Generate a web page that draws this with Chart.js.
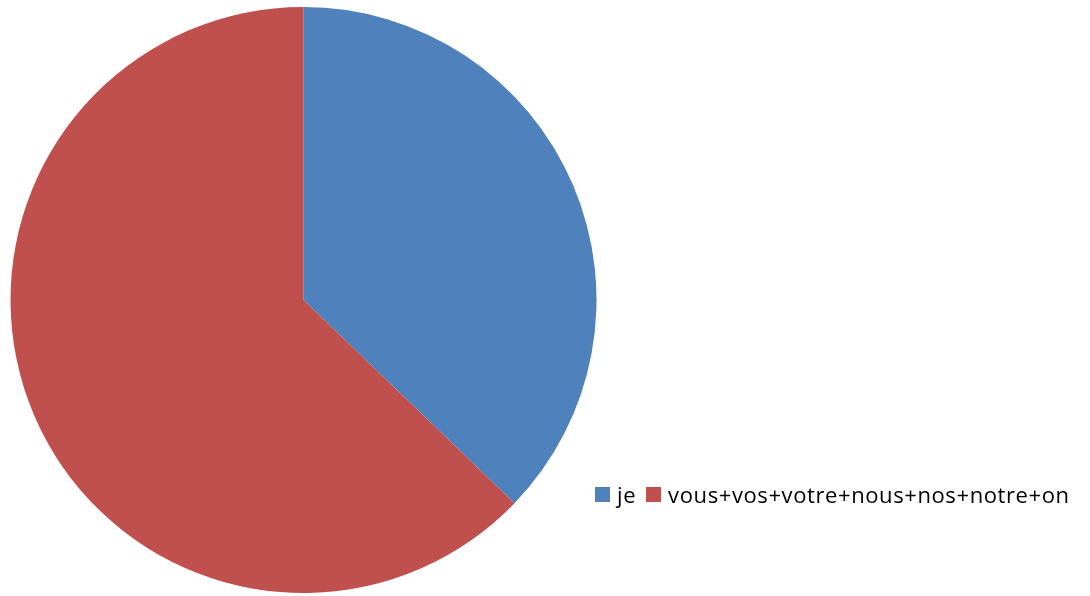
<!DOCTYPE html>
<html>
<head>
<meta charset="utf-8">
<script src="https://cdn.jsdelivr.net/npm/chart.js@4"></script>
<style>
  html, body { margin: 0; padding: 0; background: #fff; }
  #wrap { position: relative; width: 1090px; height: 596px; }
  #pieBox { position: absolute; left: 0; top: 0; width: 607px; height: 596px; }
  #legend { position: absolute; left: 595px; top: 479px; height: 30px; display: flex; align-items: center;
            font-family: "Open Sans", sans-serif; font-size: 22px; letter-spacing: 0.6px; line-height: 30px; color: #000; white-space: nowrap; }
  #legend .item { display: flex; align-items: center; }
  #legend .box { width: 15px; height: 15px; margin-right: 7px; }
  #legend .item + .item { margin-left: 10px; }
</style>
</head>
<body>
<div id="wrap">
  <div id="pieBox"><canvas id="myPie"></canvas></div>
  <div id="legend"></div>
</div>
<script>
const labels = ["je", "vous+vos+votre+nous+nos+notre+on"];
const values = [37.2, 62.8];
const colors = ["#4F81BD", "#C0504D"];

const ctx = document.getElementById("myPie");

new Chart(ctx, {
  type: "pie",
  data: {
    labels: labels,
    datasets: [
      {
        data: values,
        backgroundColor: colors,
        borderWidth: 0,
      },
    ],
  },
  options: {
    responsive: true,
    maintainAspectRatio: false,
    animation: false,
    layout: { padding: { top: 7, bottom: 3 } },
    plugins: {
      legend: { display: false },
      tooltip: { enabled: false },
    },
  },
});

// legend drawn as html next to the pie
const legend = document.getElementById("legend");
labels.forEach((name, i) => {
  const item = document.createElement("div");
  item.className = "item";
  item.innerHTML = `<span class="box" style="background:${colors[i]}"></span><span>${name}</span>`;
  legend.appendChild(item);
});
</script>
</body>
</html>
